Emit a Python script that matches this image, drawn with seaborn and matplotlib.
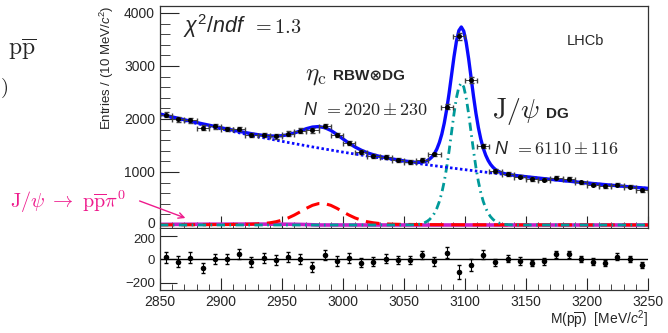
import numpy as np
import pandas as pd
import seaborn as sns
import matplotlib.pyplot as plt
import matplotlib.transforms as mtransforms
from matplotlib.ticker import MultipleLocator

# data in 10 MeV bins
bin_centres = list(range(2855, 3250, 10))
counts = [2084, 1993, 1974, 1838, 1859, 1814, 1808, 1703, 1700, 1671,
          1723, 1781, 1786, 1871, 1692, 1553, 1383, 1305, 1277, 1225,
          1190, 1225, 1331, 2235, 3558, 2732, 1489, 1021, 963, 910,
          868, 857, 895, 868, 807, 762, 730, 763, 723, 653]
# data - fit, shown in the lower panel
residuals = [17, -20, 14, -70, 0, 3, 42, -20, 11, -6,
             20, 6, -62, 34, -17, 11, -28, -20, 7, -3,
             -3, 40, -17, 57, -110, -51, 40, -25, 6, -14,
             -31, -17, 45, 42, 3, -20, -31, 23, 3, -48]

# fit components (finer grid under the J/psi peak)
m_curve = list(range(2850, 3056, 5)) + list(range(3059, 3136, 2)) + list(range(3140, 3251, 10))
bkg_curve = [2080, 2052, 2023, 1996, 1968, 1941, 1915, 1889, 1863, 1837,
             1812, 1787, 1763, 1739, 1715, 1691, 1668, 1645, 1623, 1601,
             1579, 1557, 1536, 1515, 1494, 1473, 1453, 1433, 1414, 1394,
             1375, 1356, 1338, 1320, 1301, 1284, 1266, 1249, 1232, 1215,
             1198, 1182,
             1169, 1162, 1156, 1149, 1143, 1137, 1131, 1124, 1118, 1112,
             1106, 1100, 1094, 1088, 1082, 1076, 1070, 1064, 1058, 1052,
             1047, 1041, 1035, 1030, 1024, 1018, 1013, 1007, 1002, 996,
             991, 985, 980, 974, 969, 964, 958, 953, 948,
             935, 909, 884, 860, 837, 814, 792, 771, 750, 729, 709, 690]
etac_curve = [3, 3, 3, 4, 4, 4, 5, 5, 6, 7, 8, 8,
              10, 11, 13, 16, 21, 28, 41, 61, 91, 132, 186, 249, 315, 371, 404,
              404, 371, 315, 249, 186, 132, 91, 61, 41, 28, 21, 16, 13, 11, 10,
              9, 8, 8, 8, 7, 7, 7, 6, 6, 6, 6, 5, 5, 5, 5, 5, 5, 4, 4, 4,
              4, 4, 4, 4, 4, 4, 3, 3, 3, 3, 3, 3, 3, 3, 3, 3, 3, 3, 3,
              2, 2, 2, 2, 2, 1, 1, 1, 1, 1, 1, 1]
jpsi_curve = [0] * 40 + [1, 2] + \
             [6, 10, 17, 28, 45, 69, 105, 155, 224, 318, 443, 607, 820, 1085,
              1400, 1749, 2098, 2399, 2606, 2680, 2606, 2399, 2098, 1749, 1400,
              1085, 820, 607, 443, 318, 224, 155, 105, 69, 45, 28, 17, 10, 6] + \
             [1] + [0] * 11
feed_curve = [12, 12, 13, 13, 13, 14, 14, 14, 15, 15, 15, 15, 16, 16, 16, 16,
              16, 16, 16, 15, 15, 14, 13, 11, 8, 4] + [0] * 67

main_yticks = [0, 1000, 2000, 3000, 4000]
pull_yticks = [-200, 0, 200]

curves = pd.DataFrame({'m': m_curve, 'bkg': bkg_curve, 'etac': etac_curve,
                       'jpsi': jpsi_curve, 'feed': feed_curve})
curves['total'] = curves[['bkg', 'etac', 'jpsi', 'feed']].sum(axis=1)

sns.set_style("ticks")
plt.rcParams['font.family'] = ['Liberation Sans', 'DejaVu Sans']
plt.rcParams['mathtext.fontset'] = 'custom'
plt.rcParams['mathtext.rm'] = 'Liberation Sans'
plt.rcParams['mathtext.it'] = 'Liberation Sans:italic'
plt.rcParams['mathtext.bf'] = 'Liberation Sans:bold'
plt.rcParams['xtick.direction'] = 'in'
plt.rcParams['ytick.direction'] = 'in'
plt.rcParams['axes.edgecolor'] = '0.2'
plt.rcParams['axes.linewidth'] = 0.9

blue = '#0a0aff'
teal = '#009a9a'
pink = '#ee1a8c'

fig = plt.figure(figsize=(6.68, 3.33), dpi=100)
ax = fig.add_axes([0.2395, 0.3153, 0.7305, 0.6667])
axp = fig.add_axes([0.2395, 0.1291, 0.7305, 0.1832], sharex=ax)

# fit components
sns.lineplot(data=curves, x='m', y='feed', ax=ax, color='#c81ec8', lw=2.6, estimator=None)
sns.lineplot(data=curves, x='m', y='etac', ax=ax, color='red', lw=2.2,
             linestyle=(0, (4.5, 2.5)), estimator=None)
sns.lineplot(data=curves, x='m', y='jpsi', ax=ax, color=teal, lw=2.0,
             linestyle=(0, (3, 1.6, 0.6, 1.6)), estimator=None)
sns.lineplot(data=curves, x='m', y='bkg', ax=ax, color=blue, lw=2.0,
             linestyle=(0, (0.9, 0.9)), estimator=None)
sns.lineplot(data=curves, x='m', y='total', ax=ax, color=blue, lw=2.4, estimator=None)

# data points
ax.errorbar(bin_centres, counts, yerr=np.sqrt(counts), xerr=5, fmt='none',
            ecolor='0.25', elinewidth=0.7, capsize=1.8, zorder=4)
sns.scatterplot(x=bin_centres, y=counts, ax=ax, color='k', s=13, edgecolor='k',
                linewidth=0, zorder=5)

ax.set_xlim(2850, 3250)
ax.set_ylim(-57, 4132)
ax.xaxis.set_major_locator(MultipleLocator(50))
ax.xaxis.set_minor_locator(MultipleLocator(10))
ax.set_yticks(main_yticks)
ax.yaxis.set_minor_locator(MultipleLocator(200))
ax.tick_params(axis='x', which='major', length=9, labelbottom=False)
ax.tick_params(axis='x', which='minor', length=4.5)
ax.tick_params(axis='y', which='major', length=14, labelsize=10)
ax.tick_params(axis='y', which='minor', length=7)
ax.set_xlabel('')
ax.set_ylabel('Entries / (10 MeV/$c^2$)', loc='top', fontsize=9.5, labelpad=6)

# residual panel
axp.axhline(0, color='k', lw=1)
axp.errorbar(bin_centres, residuals, yerr=np.sqrt(counts), fmt='none',
             ecolor='k', elinewidth=0.8, capsize=1.5)
sns.scatterplot(x=bin_centres, y=residuals, ax=axp, color='k', s=16,
                edgecolor='k', linewidth=0, zorder=5)
axp.set_ylim(-261, 258)
axp.set_yticks(pull_yticks)
axp.tick_params(axis='x', which='major', length=9, labelsize=10)
axp.tick_params(axis='x', which='minor', length=4.5)
axp.tick_params(axis='y', which='major', length=12, labelsize=9.5)
axp.spines['top'].set_visible(False)
axp.spines['right'].set_visible(False)
axp.set_ylabel('')
axp.set_xlabel(r'M(p$\overline{\mathrm{p}}$)  [MeV/$c^2$]', loc='right', fontsize=10, labelpad=0)

# nudge the two tick labels that meet at the panel boundary apart a little
lab0 = ax.yaxis.get_major_ticks()[0].label1
lab0.set_transform(lab0.get_transform() + mtransforms.ScaledTranslation(0, 2 / 72, fig.dpi_scale_trans))
lab200 = axp.yaxis.get_major_ticks()[2].label1
lab200.set_transform(lab200.get_transform() + mtransforms.ScaledTranslation(0, -2 / 72, fig.dpi_scale_trans))


def place_after(prev, s, gap=2, **kw):
    # put a text right after another one, on the same baseline
    fig.canvas.draw()
    bb = prev.get_window_extent()
    x0 = ax.transAxes.inverted().transform((bb.x1 + gap, 0))[0]
    return ax.text(x0, prev.get_position()[1], s, transform=ax.transAxes,
                   va='baseline', **kw)


t = ax.text(0.047, 0.878, r'$\chi^2/ndf$', transform=ax.transAxes, fontsize=15.5, va='baseline')
place_after(t, r'$= 1.3$', gap=6, fontsize=14.5, math_fontfamily='cm')

t = ax.text(0.297, 0.667, r'$\eta_{\mathrm{c}}$', transform=ax.transAxes, fontsize=18,
            va='baseline', math_fontfamily='cm')
place_after(t, 'RBW⊗DG', gap=6, fontsize=11, fontweight='bold')

t = ax.text(0.293, 0.509, r'$N$', transform=ax.transAxes, fontsize=13, va='baseline')
place_after(t, r'$= 2020 \pm 230$', gap=5, fontsize=13, math_fontfamily='cm')

t = ax.text(0.680, 0.494, r'$\mathrm{J}/\psi$', transform=ax.transAxes, fontsize=20,
            va='baseline', math_fontfamily='cm')
place_after(t, 'DG', gap=7, fontsize=11, fontweight='bold')

t = ax.text(0.684, 0.332, r'$N$', transform=ax.transAxes, fontsize=13, va='baseline')
place_after(t, r'$= 6110 \pm 116$', gap=5, fontsize=13, math_fontfamily='cm')

ax.text(0.834, 0.824, 'LHCb', transform=ax.transAxes, fontsize=10.5, va='baseline')

# bits of the neighbouring panel and the feed-down label
fig.text(8 / 668, 1 - 55 / 333, r'$\mathrm{p}\overline{\mathrm{p}}$', fontsize=17,
         math_fontfamily='cm', va='baseline')
fig.text(0.5 / 668, 1 - 93 / 333, r'$)$', fontsize=15, math_fontfamily='cm',
         va='baseline', ha='left')
fig.text(10 / 668, 1 - 208 / 333, r'$\mathrm{J}/\psi\ \rightarrow\ \mathrm{p}\overline{\mathrm{p}}\pi^0$',
         fontsize=14.5, math_fontfamily='cm', color=pink, va='baseline')
ax.annotate('', xy=(188, 333 - 219), xytext=(137, 333 - 200),
            xycoords='figure pixels', textcoords='figure pixels',
            arrowprops=dict(arrowstyle='->', color=pink, lw=1.0))

fig.savefig('out.png', dpi=100)
